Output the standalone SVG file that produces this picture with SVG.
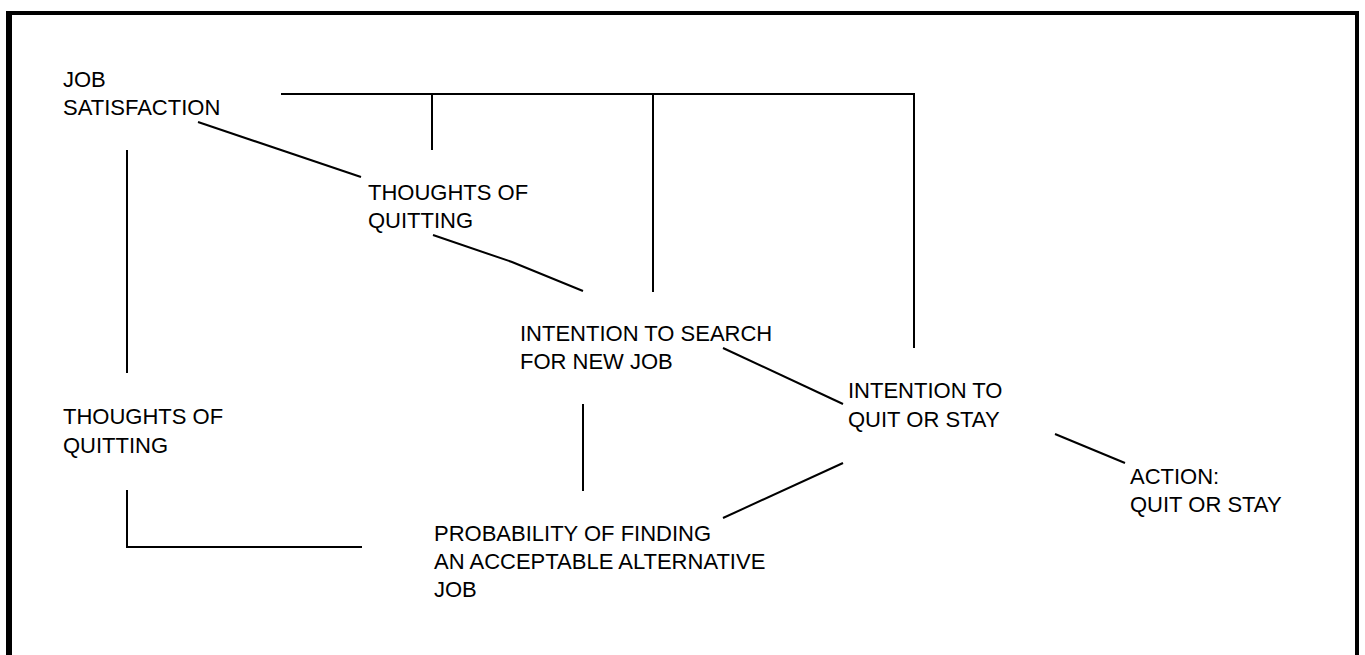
<svg xmlns="http://www.w3.org/2000/svg" width="1365" height="655" viewBox="0 0 1365 655">
<style>
.t{font-family:"Liberation Sans",Arial,sans-serif;font-size:22px;fill:#000}
.c{stroke:#000;stroke-width:2;fill:none}
.b{stroke:#000;fill:none}
</style>
<rect width="1365" height="655" fill="#fff"/>
<g id="frame">
<line class="b" x1="9" y1="13" x2="1358" y2="13" stroke-width="4"/>
<line class="b" x1="9" y1="11" x2="9" y2="655" stroke-width="6"/>
<line class="b" x1="1357" y1="11" x2="1357" y2="655" stroke-width="4"/>
</g>
<g id="connectors">
<polyline class="c" points="281,94 914,94 914,348"/>
<line class="c" x1="432" y1="94" x2="432" y2="150"/>
<line class="c" x1="653" y1="94" x2="653" y2="292"/>
<line class="c" x1="198" y1="122" x2="361" y2="177"/>
<polyline class="c" points="433,235 512,262 583,291"/>
<line class="c" x1="723" y1="348" x2="843" y2="404"/>
<line class="c" x1="843" y1="463" x2="723" y2="518"/>
<line class="c" x1="1055" y1="434" x2="1125" y2="463"/>
<line class="c" x1="127" y1="150" x2="127" y2="373"/>
<polyline class="c" points="127,490 127,547 362,547"/>
<line class="c" x1="583" y1="404" x2="583" y2="491"/>
</g>
<g id="n-jobsat"><text class="t" x="63" y="87">JOB</text><text class="t" x="63" y="115">SATISFACTION</text></g>
<g id="n-thoughts1"><text class="t" x="368" y="200">THOUGHTS OF</text><text class="t" x="368" y="228">QUITTING</text></g>
<g id="n-search"><text class="t" x="520" y="341">INTENTION TO SEARCH</text><text class="t" x="520" y="369">FOR NEW JOB</text></g>
<g id="n-quit"><text class="t" x="848" y="398">INTENTION TO</text><text class="t" x="848" y="427">QUIT OR STAY</text></g>
<g id="n-action"><text class="t" x="1130" y="484">ACTION:</text><text class="t" x="1130" y="512">QUIT OR STAY</text></g>
<g id="n-thoughts2"><text class="t" x="63" y="424">THOUGHTS OF</text><text class="t" x="63" y="453">QUITTING</text></g>
<g id="n-prob"><text class="t" x="434" y="541">PROBABILITY OF FINDING</text><text class="t" x="434" y="569">AN ACCEPTABLE ALTERNATIVE</text><text class="t" x="434" y="597">JOB</text></g>
</svg>
